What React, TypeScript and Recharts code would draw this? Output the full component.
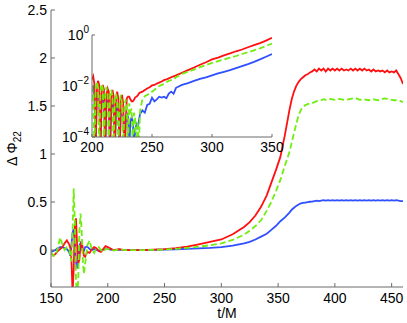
import React from 'react';
import { LineChart, Line, XAxis, YAxis, CartesianGrid } from 'recharts';

// ---------- main panel data ----------
const tMain = [
  150, 152, 154, 156, 158, 160, 162, 164, 166,
  167, 168, 169, 170, 171, 172, 173, 174, 175, 176, 177, 178, 179, 180,
  182, 184, 186, 188, 190, 192, 194, 196, 198,
  200, 205, 210, 215, 220, 230, 240, 250, 260, 270, 280, 290, 300, 310, 320, 325, 330, 335, 340, 344, 348, 352, 356,
  360, 362, 364, 366, 368, 370, 372, 374, 376, 378,
  380, 382, 384, 386, 388, 390, 392, 394, 396, 398,
  400, 402, 404, 406, 408, 410, 412, 414, 416, 418,
  420, 422, 424, 426, 428, 430, 432, 434, 436, 438,
  440, 442, 444, 446, 448, 450, 452, 454, 456, 458,
  460,
];
const redMain = [
  -0.03, -0.06, -0.04, -0.01, 0.01, 0.03, 0.07, 0.1, 0.06,
  0.02, -0.1, -0.45, -0.2, 0.25, 0.33, 0.05, -0.14, -0.1, 0.05, 0.09, 0.02, -0.06, -0.07,
  -0.02, -0.03, 0.01, 0.03, 0.02, -0.01, -0.02, 0.01, 0.04,
  0.03, 0.0, 0.01, 0.0, 0.0, 0.0, 0.005, 0.01, 0.02, 0.035, 0.06, 0.085, 0.11, 0.165, 0.24, 0.29, 0.36, 0.45, 0.57, 0.7, 0.83, 0.97, 1.2,
  1.46, 1.57, 1.65, 1.71, 1.75, 1.78, 1.8, 1.82, 1.83, 1.85,
  1.86, 1.88, 1.86, 1.89, 1.87, 1.89, 1.86, 1.89, 1.87, 1.89,
  1.87, 1.89, 1.87, 1.89, 1.87, 1.88, 1.87, 1.89, 1.87, 1.89,
  1.87, 1.89, 1.87, 1.89, 1.87, 1.88, 1.86, 1.88, 1.86, 1.87,
  1.86, 1.87, 1.85, 1.87, 1.85, 1.86, 1.85, 1.87, 1.83, 1.79,
  1.73,
];
const greenMain = [
  -0.02, -0.06, -0.05, 0.02, 0.13, 0.06, 0.0, 0.03, 0.02,
  -0.05, -0.12, 0.2, 0.64, 0.3, -0.3, -0.55, -0.3, 0.2, 0.38, 0.2, -0.1, -0.25, -0.15,
  0.05, 0.1, 0.0, -0.03, 0.02, 0.03, 0.0, -0.02, 0.01,
  0.01, -0.005, 0.005, 0.0, 0.0, 0.0, 0.002, 0.005, 0.012, 0.022, 0.035, 0.05, 0.07, 0.105, 0.16, 0.2, 0.25, 0.31, 0.41, 0.5, 0.61, 0.73, 0.88,
  1.02, 1.12, 1.22, 1.31, 1.4, 1.46, 1.49, 1.51, 1.52, 1.525,
  1.53, 1.54, 1.55, 1.555, 1.56, 1.57, 1.565, 1.57, 1.575, 1.57,
  1.565, 1.57, 1.575, 1.57, 1.565, 1.565, 1.57, 1.575, 1.58, 1.585,
  1.575, 1.565, 1.565, 1.57, 1.565, 1.56, 1.565, 1.57, 1.565, 1.56,
  1.565, 1.575, 1.58, 1.575, 1.57, 1.565, 1.56, 1.56, 1.555, 1.55,
  1.54,
];
const blueMain = [
  -0.02, -0.01, 0.0, 0.02, 0.03, 0.03, 0.02, 0.01, -0.02,
  -0.06, 0.05, 0.18, 0.22, 0.1, -0.12, -0.19, -0.1, 0.05, 0.07, 0.03, -0.02, -0.01, 0.03,
  0.035, 0.01, 0.0, 0.01, 0.0, -0.005, 0.0, 0.005, 0.01,
  0.01, 0.0, 0.005, 0.0, 0.0, 0.0, 0.002, 0.004, 0.008, 0.012, 0.018, 0.022, 0.03, 0.045, 0.07, 0.085, 0.11, 0.14, 0.17, 0.21, 0.25, 0.3, 0.34,
  0.39, 0.42, 0.44, 0.46, 0.475, 0.485, 0.49, 0.495, 0.5, 0.503,
  0.505, 0.51, 0.515, 0.51, 0.515, 0.52, 0.515, 0.52, 0.515, 0.52,
  0.515, 0.52, 0.515, 0.52, 0.515, 0.52, 0.515, 0.52, 0.515, 0.52,
  0.515, 0.52, 0.515, 0.52, 0.515, 0.52, 0.515, 0.52, 0.515, 0.52,
  0.515, 0.52, 0.515, 0.52, 0.515, 0.52, 0.515, 0.52, 0.515, 0.51,
  0.51,
];
const xTicksMain = [150, 200, 250, 300, 350, 400, 450];
const yTicksMain = [0, 0.5, 1, 1.5, 2, 2.5];

// ---------- inset (log scale) data ----------
const insetT = [
  200, 201, 202, 203, 204, 205, 206, 207, 208, 209,
  210, 211, 212, 213, 214, 215, 216, 217, 218, 219,
  220, 221, 222, 223, 224, 225, 226, 227, 228, 229,
  230, 231, 232, 233, 234, 235, 236, 237, 238, 239,
  240,
  242, 244, 246, 248, 250, 252, 254, 256, 258, 260, 262, 264, 266, 268, 270,
  275, 280, 285, 290, 295, 300, 305, 310, 315, 320, 325, 330, 335, 340, 345, 350,
];
const redInset = [
  0.018, 0.024, 0.012, 0.00003, 0.006, 0.016, 0.011, 0.00003, 0.005, 0.011,
  0.007, 0.00003, 0.004, 0.008, 0.006, 0.00003, 0.003, 0.007, 0.004, 0.00003,
  0.003, 0.006, 0.003, 0.00003, 0.0025, 0.0045, 0.002, 0.00002, 0.0002, 0.0033,
  0.0038, 0.0038, 0.003, 0.0025, 0.0025, 0.0029, 0.0036, 0.0038, 0.0042, 0.005,
  0.0055,
  0.006, 0.007, 0.008, 0.009, 0.0105, 0.011, 0.0125, 0.0135, 0.015, 0.017, 0.018, 0.02, 0.022, 0.024, 0.026,
  0.033, 0.042, 0.053, 0.068, 0.085, 0.11, 0.13, 0.16, 0.19, 0.23, 0.27, 0.33, 0.4, 0.48, 0.6, 0.78,
];
const greenInset = [
  0.01, 0.004, 0.00003, 0.008, 0.015, 0.009, 0.00003, 0.006, 0.012, 0.008,
  0.00003, 0.005, 0.009, 0.005, 0.00003, 0.004, 0.007, 0.004, 0.00003, 0.003,
  0.005, 0.003, 0.00003, 0.002, 0.0045, 0.002, 0.00003, 0.0015, 0.003, 0.0015,
  0.00003, 0.0021, 0.001, 0.0013, 0.00003, 0.0009, 0.0005, 0.00003, 0.0004, 0.00003,
  0.001,
  0.003, 0.004, 0.0045, 0.005, 0.006, 0.007, 0.0085, 0.01, 0.011, 0.012, 0.014, 0.016, 0.017, 0.018, 0.022,
  0.03, 0.036, 0.044, 0.055, 0.066, 0.08, 0.095, 0.11, 0.13, 0.15, 0.18, 0.21, 0.25, 0.3, 0.37, 0.46,
];
const blueInset = [
  0.006, 0.008, 0.005, 0.00003, 0.003, 0.006, 0.004, 0.00003, 0.002, 0.0035,
  0.003, 0.00003, 0.0015, 0.0025, 0.002, 0.00003, 0.0012, 0.002, 0.0012, 0.00003,
  0.0009, 0.0015, 0.001, 0.00003, 0.0007, 0.0012, 0.0008, 0.00003, 0.0005, 0.0009,
  0.0006, 0.00003, 0.0004, 0.0006, 0.0004, 0.00003, 0.0002, 0.0003, 0.0002, 0.0004,
  0.0008,
  0.0011, 0.0009, 0.0018, 0.002, 0.0035, 0.0025, 0.003, 0.0038, 0.0035, 0.0038, 0.0033, 0.005, 0.006, 0.005, 0.0085,
  0.011, 0.013, 0.016, 0.019, 0.022, 0.026, 0.031, 0.036, 0.042, 0.05, 0.06, 0.072, 0.088, 0.11, 0.14, 0.18,
];
const xTicksInset = [200, 250, 300, 350];
const yTicksInset = [0.0001, 0.01, 1];

const mainRows = tMain.map((t, i) => ({ t, red: redMain[i], green: greenMain[i], blue: blueMain[i] }));
const insetRows = insetT.map((t, i) => ({ t, red: redInset[i], green: greenInset[i], blue: blueInset[i] }));

const FONT = '"Liberation Sans", Arial, Helvetica, sans-serif';
const AX = '#6b6b6b';
const RED = '#ff1010';
const GREEN = '#70ee10';
const BLUE = '#3050ff';

function BottomTick(props: any) {
  const { x, y, payload, len, label, gap } = props;
  return (
    <g>
      <line x1={x} y1={y} x2={x} y2={y - len} stroke={AX} strokeWidth={1} />
      {label ? (
        <text x={x} y={y + gap} textAnchor="middle" fontSize={14} fontFamily={FONT} fill="#000">
          {payload.value}
        </text>
      ) : null}
    </g>
  );
}
function TopTick(props: any) {
  const { x, y, len } = props;
  return <line x1={x} y1={y} x2={x} y2={y + len} stroke={AX} strokeWidth={1} />;
}
function LeftTick(props: any) {
  const { x, y, payload, len, label } = props;
  return (
    <g>
      <line x1={x} y1={y} x2={x + len} y2={y} stroke={AX} strokeWidth={1} />
      {label ? (
        <text x={x - 4} y={y + 5} textAnchor="end" fontSize={14} fontFamily={FONT} fill="#000">
          {payload.value}
        </text>
      ) : null}
    </g>
  );
}
function RightTick(props: any) {
  const { x, y, len } = props;
  return <line x1={x} y1={y} x2={x - len} y2={y} stroke={AX} strokeWidth={1} />;
}
function LogLeftTick(props: any) {
  const { x, y, payload, len } = props;
  const e = Math.round(Math.log10(payload.value));
  const expText = e < 0 ? '\u2212' + String(-e) : String(e);
  return (
    <g>
      <line x1={x} y1={y} x2={x + len} y2={y} stroke={AX} strokeWidth={1} />
      <text x={x - 3} y={y + 5} textAnchor="end" fontSize={14} fontFamily={FONT} fill="#000">
        10
        <tspan fontSize={10} dy={-7}>{expText}</tspan>
      </text>
    </g>
  );
}

function YLabel(props: any) {
  const vb = props.viewBox || { x: 0, y: 10, width: 51, height: 277 };
  const cy = vb.y + vb.height / 2;
  const bx = 17;
  return (
    <text
      x={bx}
      y={cy}
      transform={`rotate(-90 ${bx} ${cy})`}
      textAnchor="middle"
      fontSize={14}
      fontFamily={FONT}
      fill="#000"
    >
      {'\u0394 \u03A6'}
      <tspan fontSize={10} dy={4}>22</tspan>
    </text>
  );
}
function XLabel(props: any) {
  const vb = props.viewBox || { x: 51, y: 287, width: 352, height: 36 };
  const cx = vb.x + vb.width / 2;
  return (
    <text x={cx} y={vb.y + 31} textAnchor="middle" fontSize={14} fontFamily={FONT} fill="#000">
      t/M
    </text>
  );
}

export default function App() {
  return (
    <div style={{ position: 'absolute', left: 0, top: 0, width: 407, height: 323, background: '#fff' }}>
      <div style={{ position: 'absolute', left: 0, top: 0 }}>
        <LineChart width={407} height={323} data={mainRows} margin={{ top: 10, right: 4, bottom: 0, left: 0 }}>
          <XAxis
            xAxisId="b"
            dataKey="t"
            type="number"
            domain={[150, 460]}
            ticks={xTicksMain}
            interval={0}
            height={36}
            tickSize={0}
            tickMargin={0}
            allowDataOverflow
            axisLine={{ stroke: AX }}
            tick={<BottomTick len={4} label gap={16} />}
            label={<XLabel />}
          />
          <XAxis
            xAxisId="t"
            orientation="top"
            dataKey="t"
            type="number"
            domain={[150, 460]}
            ticks={xTicksMain}
            interval={0}
            height={0}
            tickSize={0}
            tickMargin={0}
            allowDataOverflow
            axisLine={{ stroke: AX }}
            tick={<TopTick len={4} />}
          />
          <YAxis
            yAxisId="l"
            type="number"
            domain={[-0.385, 2.5]}
            ticks={yTicksMain}
            interval={0}
            width={51}
            tickSize={0}
            tickMargin={0}
            allowDataOverflow
            axisLine={{ stroke: AX }}
            tick={<LeftTick len={4} label />}
            label={<YLabel />}
          />
          <YAxis
            yAxisId="r"
            orientation="right"
            type="number"
            domain={[-0.385, 2.5]}
            ticks={yTicksMain}
            interval={0}
            width={0}
            tickSize={0}
            tickMargin={0}
            allowDataOverflow
            axisLine={{ stroke: AX }}
            tick={<RightTick len={4} />}
          />
          <Line xAxisId="b" yAxisId="l" type="linear" dataKey="blue" stroke={BLUE} strokeWidth={1.8} dot={false} isAnimationActive={false} />
          <Line xAxisId="b" yAxisId="l" type="linear" dataKey="red" stroke={RED} strokeWidth={1.8} dot={false} isAnimationActive={false} />
          <Line xAxisId="b" yAxisId="l" type="linear" dataKey="green" stroke={GREEN} strokeWidth={1.8} strokeDasharray="6 3" dot={false} isAnimationActive={false} />
        </LineChart>
      </div>
      <div style={{ position: 'absolute', left: 0, top: 0 }}>
        <LineChart width={407} height={323} data={insetRows} margin={{ top: 35, right: 135, bottom: 166, left: 0 }}>
          <CartesianGrid xAxisId="b" yAxisId="l" horizontal={false} vertical={false} fill="#ffffff" stroke="none" />
          <XAxis
            xAxisId="b"
            dataKey="t"
            type="number"
            domain={[200, 350]}
            ticks={xTicksInset}
            interval={0}
            height={20}
            tickSize={0}
            tickMargin={0}
            allowDataOverflow
            axisLine={{ stroke: AX }}
            tick={<BottomTick len={3} label gap={15} />}
          />
          <XAxis
            xAxisId="t"
            orientation="top"
            dataKey="t"
            type="number"
            domain={[200, 350]}
            ticks={xTicksInset}
            interval={0}
            height={0}
            tickSize={0}
            tickMargin={0}
            allowDataOverflow
            axisLine={{ stroke: AX }}
            tick={<TopTick len={3} />}
          />
          <YAxis
            yAxisId="l"
            type="number"
            scale="log"
            domain={[0.0001, 1]}
            ticks={yTicksInset}
            interval={0}
            width={92}
            tickSize={0}
            tickMargin={0}
            allowDataOverflow
            axisLine={{ stroke: AX }}
            tick={<LogLeftTick len={3} />}
          />
          <YAxis
            yAxisId="r"
            orientation="right"
            type="number"
            scale="log"
            domain={[0.0001, 1]}
            ticks={yTicksInset}
            interval={0}
            width={0}
            tickSize={0}
            tickMargin={0}
            allowDataOverflow
            axisLine={{ stroke: AX }}
            tick={<RightTick len={3} />}
          />
          <Line xAxisId="b" yAxisId="l" type="linear" dataKey="blue" stroke={BLUE} strokeWidth={1.8} dot={false} isAnimationActive={false} />
          <Line xAxisId="b" yAxisId="l" type="linear" dataKey="red" stroke={RED} strokeWidth={1.8} dot={false} isAnimationActive={false} />
          <Line xAxisId="b" yAxisId="l" type="linear" dataKey="green" stroke={GREEN} strokeWidth={1.8} strokeDasharray="6 3" dot={false} isAnimationActive={false} />
        </LineChart>
      </div>
    </div>
  );
}
